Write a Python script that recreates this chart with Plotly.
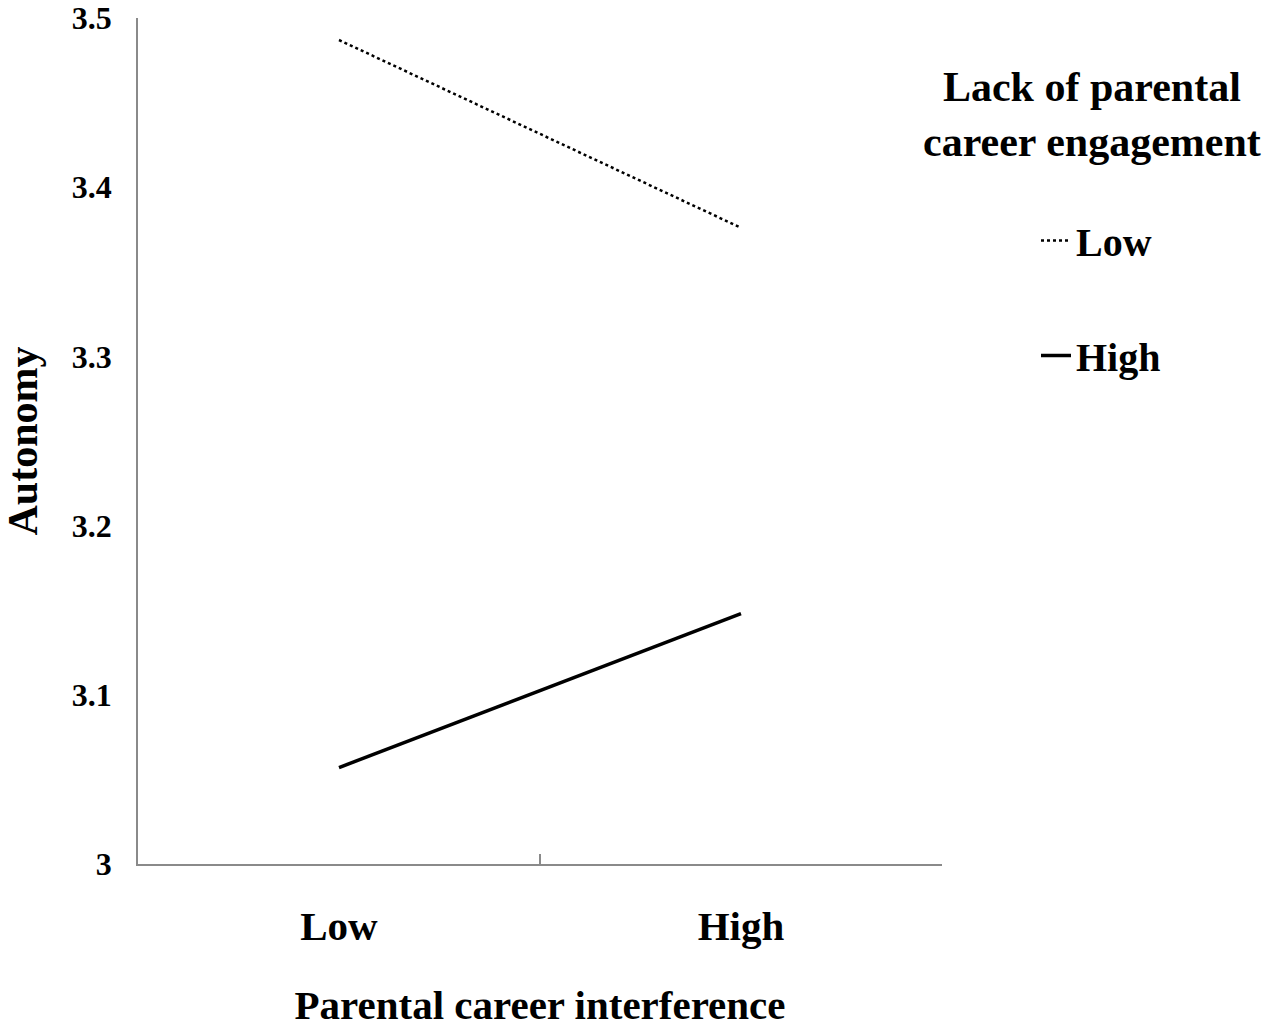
import plotly.graph_objects as go

categories = ["Low", "High"]
low_engagement = [3.487, 3.376]
high_engagement = [3.057, 3.148]
series_names = ["Low", "High"]
legend_title = "Lack of parental<br>career engagement"
y_ticks = [3, 3.1, 3.2, 3.3, 3.4, 3.5]
y_tick_labels = ["3", "3.1", "3.2", "3.3", "3.4", "3.5"]

FONT = "Liberation Serif"
AXIS_COLOR = "#8a8a8a"

fig = go.Figure()
fig.add_trace(go.Scatter(
    x=categories, y=low_engagement, name=series_names[0], mode="lines",
    line=dict(color="black", width=2.5, dash="dot"), legendgroup="a",
))
fig.add_trace(go.Scatter(
    x=categories, y=high_engagement, name=series_names[1], mode="lines",
    line=dict(color="black", width=3.5), legendgroup="b",
))

fig.add_annotation(
    text=legend_title, xref="paper", yref="paper", x=1.187, y=0.886,
    xanchor="center", yanchor="middle", showarrow=False, align="center",
    font=dict(family=FONT, size=42, weight="bold", color="black"),
)

fig.update_layout(
    width=1267, height=1028,
    margin=dict(l=138, r=325, t=18, b=164, autoexpand=False),
    plot_bgcolor="white", paper_bgcolor="white",
    font=dict(family=FONT, color="black", size=40, weight="bold"),
    showlegend=True,
    legend=dict(
        font=dict(family=FONT, size=40, weight="bold"),
        xref="container", yref="container",
        x=1036 / 1267, xanchor="left", y=1 - 208 / 1028, yanchor="top",
        tracegroupgap=60, bgcolor="rgba(0,0,0,0)",
    ),
    xaxis=dict(
        type="category", categoryorder="array", categoryarray=categories,
        range=[-0.5, 1.5], tickson="boundaries", automargin=False,
        showline=True, linecolor=AXIS_COLOR, linewidth=1.5,
        ticks="inside", ticklen=10, tickcolor=AXIS_COLOR, tickwidth=1.5,
        showgrid=False, zeroline=False,
        tickfont=dict(family=FONT, size=41, weight="bold"),
        ticklabelstandoff=25,
        title=dict(text="Parental career interference", standoff=45,
                   font=dict(family=FONT, size=41, weight="bold")),
    ),
    yaxis=dict(
        range=[3, 3.5], tickvals=y_ticks, ticktext=y_tick_labels, automargin=False,
        showline=True, linecolor=AXIS_COLOR, linewidth=1.5,
        ticks="", showgrid=False, zeroline=False,
        tickfont=dict(family=FONT, size=32, weight="bold"),
        ticklabelstandoff=18,
        title=dict(text="Autonomy", standoff=34,
                   font=dict(family=FONT, size=42, weight="bold")),
    ),
)

fig.write_html("out.html", config={"displayModeBar": False},
               post_script="document.body.style.margin='0';")
